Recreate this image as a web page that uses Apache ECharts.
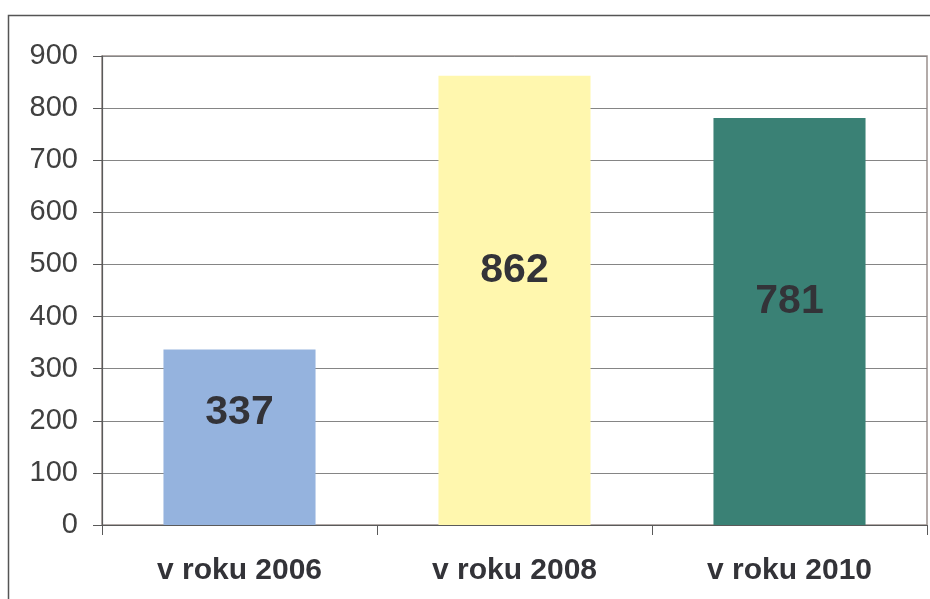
<!DOCTYPE html>
<html>
<head>
<meta charset="utf-8">
<script src="https://cdn.jsdelivr.net/npm/echarts@6/dist/echarts.min.js"></script>
<style>
  html, body { margin: 0; padding: 0; background: #fff; }
  #chart { width: 930px; height: 599px; }
</style>
</head>
<body>
<div id="chart"></div>
<script>
// Categories and values
const categories = ['v roku 2006', 'v roku 2008', 'v roku 2010'];
const values = [337, 862, 781];
const barColors = ['#95B3DE', '#FFF7AE', '#3A8175'];
const labelLift = [-25, -30, -20];

const FONT = '"Liberation Sans", Arial, sans-serif';

const chart = echarts.init(document.getElementById('chart'), null, { renderer: 'canvas' });

chart.setOption({
  animation: false,
  backgroundColor: '#ffffff',
  grid: {
    left: 102, right: 3, top: 56, bottom: 74,
    show: true,
    borderColor: '#9a908d',
    borderWidth: 1.5,
    backgroundColor: 'transparent'
  },
  graphic: [
    {
      type: 'polyline',
      shape: { points: [[8.5, 599], [8.5, 15.5], [930, 15.5]] },
      style: { stroke: '#555555', lineWidth: 1.5, fill: null },
      silent: true
    }
  ],
  xAxis: {
    type: 'category',
    data: categories,
    boundaryGap: true,
    axisLine: { show: true, lineStyle: { color: '#5a5a5a', width: 1.2 } },
    axisTick: { show: true, length: 10, alignWithLabel: false, lineStyle: { color: '#5a5a5a' } },
    axisLabel: {
      margin: 31,
      fontFamily: FONT,
      fontSize: 30,
      fontWeight: 'bold',
      color: '#333338'
    },
    splitLine: { show: false }
  },
  yAxis: {
    type: 'value',
    min: 0,
    max: 900,
    interval: 100,
    axisLine: { show: true, lineStyle: { color: '#5a5a5a', width: 1.2 } },
    axisTick: { show: true, length: 9, lineStyle: { color: '#5a5a5a' } },
    axisLabel: {
      margin: 24,
      fontFamily: FONT,
      fontSize: 29,
      color: '#404040'
    },
    splitLine: { show: true, lineStyle: { color: '#858585', width: 1 } }
  },
  series: [
    {
      type: 'bar',
      barWidth: '55.3%',
      data: values.map((v, i) => ({
        value: v,
        itemStyle: { color: barColors[i] },
        label: { offset: [0, labelLift[i]] }
      })),
      label: {
        show: true,
        position: 'inside',
        fontFamily: FONT,
        fontSize: 41,
        fontWeight: 'bold',
        color: '#333338'
      }
    }
  ]
});
</script>
</body>
</html>
